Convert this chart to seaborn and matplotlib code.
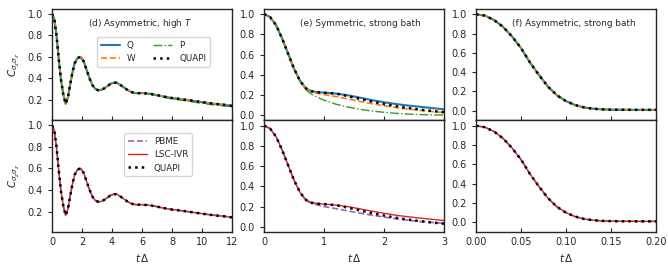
import matplotlib
matplotlib.use('Agg')
import matplotlib.pyplot as plt
from matplotlib.ticker import MultipleLocator, FormatStrFormatter
import seaborn as sns

# (d) asymmetric, high T  -- all methods lie on one curve, P a bit lower at the tail
t_d = [0, 0.15, 0.3, 0.45, 0.6, 0.75, 0.9, 1.05, 1.2, 1.35, 1.5, 1.7, 1.9, 2.1, 2.3, 2.5,
       2.7, 2.9, 3.1, 3.3, 3.5, 3.7, 3.9, 4.1, 4.3, 4.5, 4.75, 5.0, 5.25, 5.5, 5.75, 6.0,
       6.5, 7.0, 7.5, 8.0, 8.5, 9.0, 9.5, 10.0, 10.5, 11.0, 11.5, 12.0]
c_d = [1.0, 0.95, 0.79, 0.57, 0.38, 0.25, 0.165, 0.22, 0.34, 0.45, 0.54, 0.59, 0.60, 0.56,
       0.48, 0.40, 0.335, 0.30, 0.29, 0.295, 0.31, 0.33, 0.35, 0.36, 0.36, 0.345, 0.32,
       0.295, 0.275, 0.265, 0.263, 0.264, 0.258, 0.245, 0.23, 0.218, 0.21, 0.20, 0.19,
       0.18, 0.17, 0.162, 0.155, 0.145]
c_d_p = [1.0, 0.95, 0.79, 0.57, 0.38, 0.25, 0.165, 0.22, 0.34, 0.45, 0.54, 0.59, 0.60, 0.56,
         0.48, 0.40, 0.335, 0.30, 0.29, 0.295, 0.31, 0.33, 0.35, 0.36, 0.36, 0.345, 0.32,
         0.295, 0.275, 0.265, 0.262, 0.262, 0.255, 0.24, 0.224, 0.21, 0.2, 0.19, 0.179,
         0.169, 0.159, 0.151, 0.144, 0.136]

# (e) symmetric, strong bath
t_e = [0, 0.1, 0.2, 0.3, 0.4, 0.5, 0.6, 0.7, 0.8, 0.9, 1.0, 1.2, 1.4, 1.6, 1.8, 2.0,
       2.2, 2.4, 2.6, 2.8, 3.0]
e_q = [1.0, 0.97, 0.89, 0.76, 0.61, 0.46, 0.34, 0.265, 0.237, 0.228, 0.224, 0.215, 0.198,
       0.175, 0.15, 0.13, 0.112, 0.097, 0.085, 0.072, 0.06]
e_w = [1.0, 0.97, 0.89, 0.76, 0.61, 0.46, 0.34, 0.262, 0.228, 0.215, 0.205, 0.185, 0.162,
       0.138, 0.115, 0.095, 0.078, 0.063, 0.05, 0.038, 0.028]
e_p = [1.0, 0.97, 0.89, 0.76, 0.61, 0.46, 0.335, 0.25, 0.205, 0.175, 0.15, 0.11, 0.082,
       0.06, 0.043, 0.03, 0.02, 0.013, 0.008, 0.005, 0.003]
e_quapi = [1.0, 0.97, 0.89, 0.76, 0.61, 0.46, 0.34, 0.265, 0.237, 0.228, 0.224, 0.215,
           0.19, 0.162, 0.136, 0.112, 0.09, 0.072, 0.057, 0.043, 0.032]
e_lsc = [1.0, 0.97, 0.89, 0.76, 0.61, 0.46, 0.34, 0.265, 0.24, 0.23, 0.225, 0.215, 0.2,
         0.178, 0.155, 0.135, 0.115, 0.1, 0.087, 0.075, 0.063]
e_pbme = [1.0, 0.97, 0.89, 0.76, 0.61, 0.46, 0.34, 0.26, 0.23, 0.215, 0.2, 0.18, 0.158,
          0.135, 0.115, 0.097, 0.08, 0.066, 0.054, 0.044, 0.035]

# (f) asymmetric, strong bath -- all methods coincide
t_f = [0, 0.01, 0.02, 0.03, 0.04, 0.05, 0.06, 0.07, 0.08, 0.09, 0.10, 0.11, 0.12, 0.13,
       0.14, 0.15, 0.16, 0.18, 0.20]
c_f = [1.0, 0.985, 0.94, 0.87, 0.77, 0.65, 0.50, 0.37, 0.25, 0.16, 0.10, 0.06, 0.035,
       0.022, 0.015, 0.012, 0.011, 0.01, 0.01]

sns.set_style("ticks")
plt.rcParams['font.family'] = ['DejaVu Sans']
plt.rcParams['axes.linewidth'] = 1.0
plt.rcParams['xtick.direction'] = 'in'
plt.rcParams['ytick.direction'] = 'out'
plt.rcParams['xtick.major.size'] = 3
plt.rcParams['ytick.major.size'] = 3

pal = sns.color_palette("tab10")
sty = {
    'Q': dict(color=pal[0], linestyle='-', linewidth=1.5),
    'W': dict(color=pal[1], linestyle='--', linewidth=1.2),
    'P': dict(color=pal[2], linestyle='-.', linewidth=1.0),
    'QUAPI': dict(color='black', linestyle=':', linewidth=1.8),
    'PBME': dict(color=pal[4], linestyle='--', linewidth=1.2),
    'LSC-IVR': dict(color=pal[3], linestyle='-', linewidth=1.0),
}

fig, axes = plt.subplots(2, 3, figsize=(6.68, 2.71), dpi=100, sharex='col')
fig.subplots_adjust(left=0.078, right=0.982, top=0.967, bottom=0.144,
                    hspace=0, wspace=0.178)

top = [
    (t_d, {'Q': c_d, 'W': c_d, 'P': c_d_p, 'QUAPI': c_d}),
    (t_e, {'Q': e_q, 'W': e_w, 'P': e_p, 'QUAPI': e_quapi}),
    (t_f, {'Q': c_f, 'W': c_f, 'P': c_f, 'QUAPI': c_f}),
]
bottom = [
    (t_d, {'PBME': c_d, 'LSC-IVR': c_d, 'QUAPI': c_d}),
    (t_e, {'PBME': e_pbme, 'LSC-IVR': e_lsc, 'QUAPI': e_quapi}),
    (t_f, {'PBME': c_f, 'LSC-IVR': c_f, 'QUAPI': c_f}),
]

for row, sets in enumerate([top, bottom]):
    for col, (t, series) in enumerate(sets):
        ax = axes[row, col]
        for name, vals in series.items():
            sns.lineplot(x=t, y=vals, ax=ax, label=name, **sty[name])
        if ax.get_legend() is not None:
            ax.get_legend().remove()

titles = ['(d) Asymmetric, high $T$', '(e) Symmetric, strong bath',
          '(f) Asymmetric, strong bath']
xlims = [(0, 12), (0, 3), (0, 0.2)]
ylims = [(0.01, 1.045), (-0.05, 1.05), (-0.1, 1.055)]

for col in range(3):
    for row in range(2):
        ax = axes[row, col]
        ax.set_xlim(*xlims[col])
        ax.set_ylim(*ylims[col])
        ax.yaxis.set_major_locator(MultipleLocator(0.2))
        ax.yaxis.set_major_formatter(FormatStrFormatter('%.1f'))
        ax.tick_params(labelsize=7, width=0.8)
        ax.set_ylabel('')
        ax.set_xlabel('')
    axes[0, col].text(0.2, 0.87, titles[col], transform=axes[0, col].transAxes,
                      fontsize=6.4, va='center', ha='left')
    axes[1, col].set_xlabel(r'$t\,\Delta$', fontsize=7.5)

axes[1, 0].set_xticks([0, 2, 4, 6, 8, 10, 12])
axes[1, 1].set_xticks([0, 1, 2, 3])
axes[1, 2].set_xticks([0, 0.05, 0.10, 0.15, 0.20])
axes[1, 2].xaxis.set_major_formatter(FormatStrFormatter('%.2f'))
axes[0, 0].set_ylabel(r'$C_{\sigma_z\sigma_z}$', fontsize=7.5)
axes[1, 0].set_ylabel(r'$C_{\sigma_z\sigma_z}$', fontsize=7.5)

axes[0, 0].legend(ncol=2, loc='upper left', bbox_to_anchor=(0.25, 0.745),
                  borderaxespad=0, fontsize=6.3, handlelength=2.2)
axes[1, 0].legend(loc='upper left', bbox_to_anchor=(0.4, 0.885),
                  borderaxespad=0, fontsize=6.3, handlelength=2.2)

fig.savefig('out.png', dpi=100)
